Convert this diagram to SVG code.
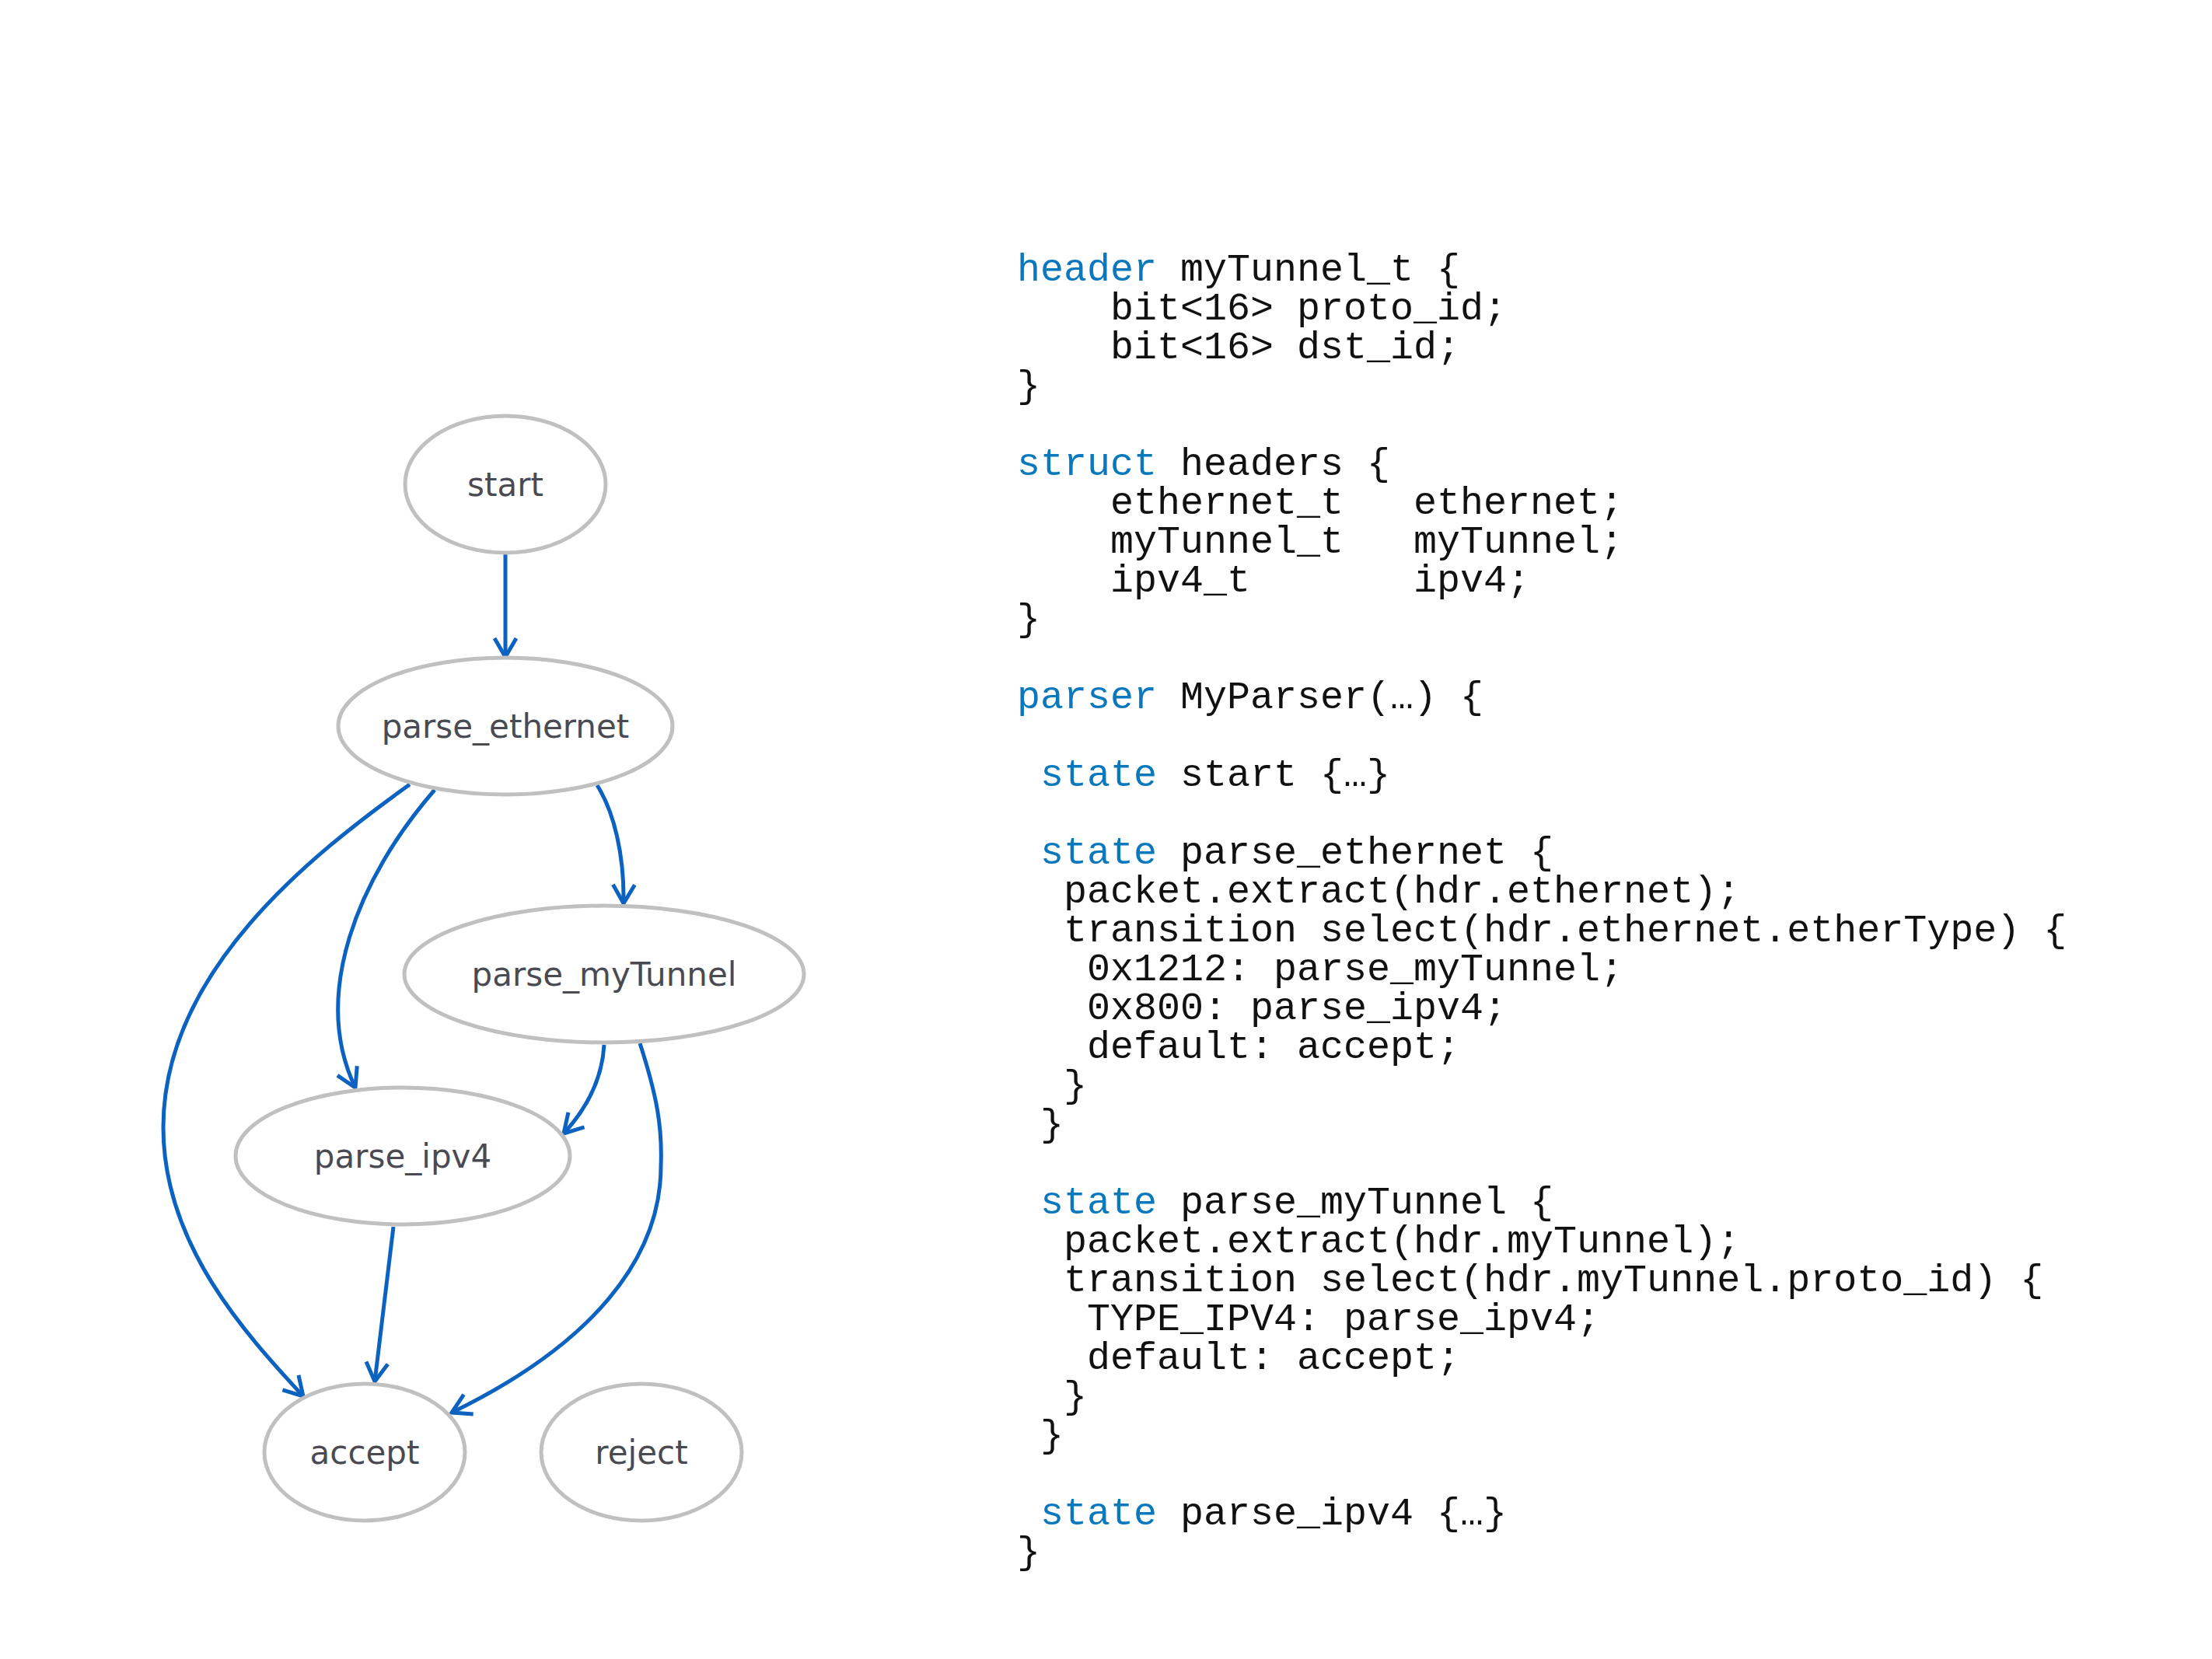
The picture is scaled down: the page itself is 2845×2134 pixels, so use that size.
<svg xmlns="http://www.w3.org/2000/svg" width="2845" height="2134" viewBox="0 0 2845 2134">
<style>
.node ellipse{fill:#fff;stroke:#c0c0c0;stroke-width:5}
.node text{font-family:"DejaVu Sans","Liberation Sans",sans-serif;font-size:42px;fill:#4a4b52;text-anchor:middle}
.edge{fill:none;stroke:#0b62c0;stroke-width:5}
.code{font-family:"Liberation Mono","DejaVu Sans Mono",monospace;font-size:50px;fill:#111}
.kw{fill:#0a78bd}
</style>
<defs>
<marker id="arr" markerUnits="userSpaceOnUse" markerWidth="60" markerHeight="60" viewBox="-30 -30 60 60" refX="0" refY="0" orient="auto">
<path d="M -24 -14 L 0 0 L -24 14" fill="none" stroke="#0b62c0" stroke-width="5"/>
</marker>
</defs>
<rect width="2845" height="2134" fill="#fff"/>
<g id="connectors">
<path class="edge" marker-end="url(#arr)" d="M 650 712 L 650 845"/>
<path class="edge" marker-end="url(#arr)" d="M 527 1009 C 400 1100, 210 1250, 210 1450 C 210 1600, 315 1715, 390 1796"/>
<path class="edge" marker-end="url(#arr)" d="M 559 1016 C 460 1130, 400 1280, 457 1399"/>
<path class="edge" marker-end="url(#arr)" d="M 768 1010 C 790 1045, 803 1100, 802 1162"/>
<path class="edge" marker-end="url(#arr)" d="M 777 1344 C 775 1380, 760 1420, 725 1458"/>
<path class="edge" marker-end="url(#arr)" d="M 823 1342 C 845 1410, 852 1450, 850 1500 C 850 1620, 760 1730, 581 1817"/>
<path class="edge" marker-end="url(#arr)" d="M 506 1578 L 482 1777"/>
</g>
<g id="node-start" class="node"><ellipse cx="650" cy="623" rx="129" ry="88"/><text x="650" y="638">start</text></g>
<g id="node-parse_ethernet" class="node"><ellipse cx="650" cy="934" rx="215" ry="88"/><text x="650" y="949">parse_ethernet</text></g>
<g id="node-parse_myTunnel" class="node"><ellipse cx="777" cy="1253" rx="257" ry="88"/><text x="777" y="1268">parse_myTunnel</text></g>
<g id="node-parse_ipv4" class="node"><ellipse cx="518" cy="1487" rx="215" ry="88"/><text x="518" y="1502">parse_ipv4</text></g>
<g id="node-accept" class="node"><ellipse cx="469" cy="1868" rx="129" ry="88"/><text x="469" y="1883">accept</text></g>
<g id="node-reject" class="node"><ellipse cx="825" cy="1868" rx="129" ry="88"/><text x="825" y="1883">reject</text></g>
<g id="code" class="code">
<text x="1308" y="361"><tspan class="kw">header</tspan> myTunnel_t {</text>
<text x="1428" y="411">bit&lt;16&gt; proto_id;</text>
<text x="1428" y="461">bit&lt;16&gt; dst_id;</text>
<text x="1308" y="511">}</text>
<text x="1308" y="611"><tspan class="kw">struct</tspan> headers {</text>
<text x="1428" y="661">ethernet_t<tspan x="1818">ethernet;</tspan></text>
<text x="1428" y="711">myTunnel_t<tspan x="1818">myTunnel;</tspan></text>
<text x="1428" y="761">ipv4_t<tspan x="1818">ipv4;</tspan></text>
<text x="1308" y="811">}</text>
<text x="1308" y="911"><tspan class="kw">parser</tspan> MyParser(…) {</text>
<text x="1338" y="1011"><tspan class="kw">state</tspan> start {…}</text>
<text x="1338" y="1111"><tspan class="kw">state</tspan> parse_ethernet {</text>
<text x="1368" y="1161">packet.extract(hdr.ethernet);</text>
<text x="1368" y="1211">transition select(hdr.ethernet.etherType) {</text>
<text x="1398" y="1261">0x1212: parse_myTunnel;</text>
<text x="1398" y="1311">0x800: parse_ipv4;</text>
<text x="1398" y="1361">default: accept;</text>
<text x="1368" y="1411">}</text>
<text x="1338" y="1461">}</text>
<text x="1338" y="1561"><tspan class="kw">state</tspan> parse_myTunnel {</text>
<text x="1368" y="1611">packet.extract(hdr.myTunnel);</text>
<text x="1368" y="1661">transition select(hdr.myTunnel.proto_id) {</text>
<text x="1398" y="1711">TYPE_IPV4: parse_ipv4;</text>
<text x="1398" y="1761">default: accept;</text>
<text x="1368" y="1811">}</text>
<text x="1338" y="1861">}</text>
<text x="1338" y="1961"><tspan class="kw">state</tspan> parse_ipv4 {…}</text>
<text x="1308" y="2011">}</text>
</g>
</svg>
